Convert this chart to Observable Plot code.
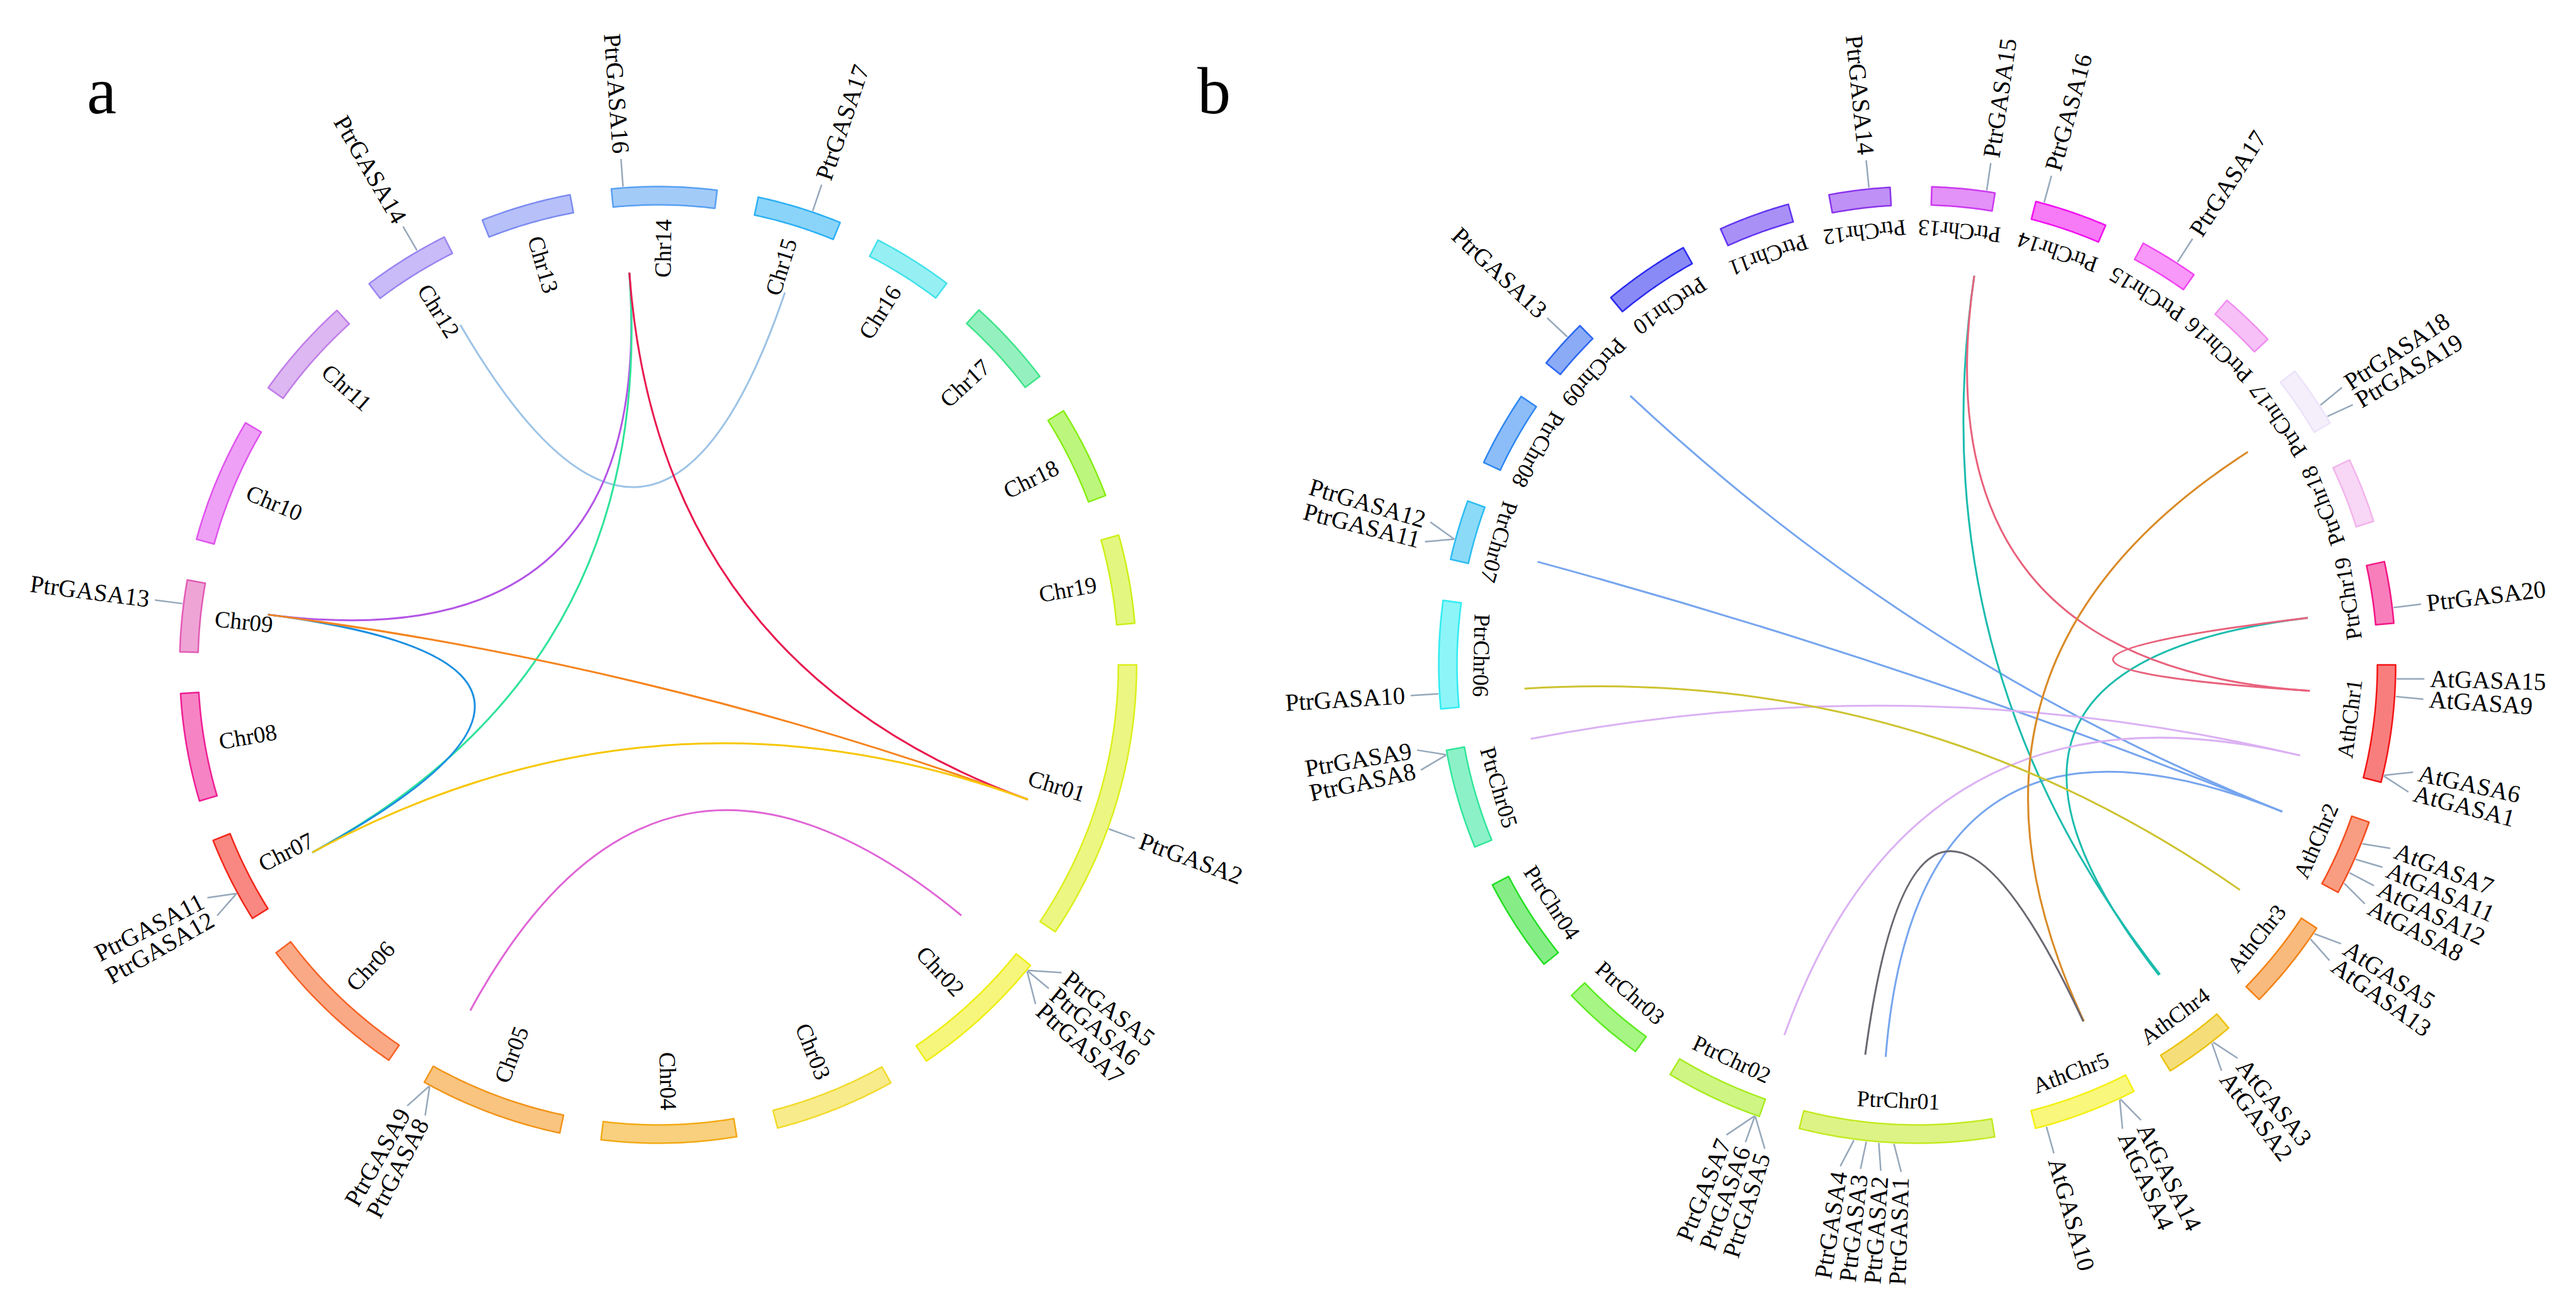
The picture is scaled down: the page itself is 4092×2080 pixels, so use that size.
<!DOCTYPE html>
<html>
<head>
<meta charset="utf-8">
<script src="https://cdn.jsdelivr.net/npm/d3@7"></script>
<script src="https://cdn.jsdelivr.net/npm/@observablehq/plot@0.6"></script>
<style>
html, body { margin: 0; padding: 0; background: #fff; overflow: hidden; }
#wrap { position: relative; width: 4092px; height: 2080px; }
#wrap svg { display: block; }
.letter { position: absolute; font-family: "Liberation Serif", "Times New Roman", serif; font-size: 106px; line-height: 1; color: #000; }
</style>
</head>
<body>
<div id="wrap"></div>
<script>
// ---------------- DATA ----------------
// Populus trichocarpa chromosomes (Mb)
const ptrChromosomes = ["Chr01","Chr02","Chr03","Chr04","Chr05","Chr06","Chr07","Chr08","Chr09","Chr10",
                        "Chr11","Chr12","Chr13","Chr14","Chr15","Chr16","Chr17","Chr18","Chr19"];
const ptrLengths = [50.5, 25.3, 21.8, 24.3, 25.9, 27.9, 15.6, 19.5, 12.9, 22.6,
                    18.5, 15.8, 16.3, 18.9, 15.3, 14.5, 16.1, 16.9, 16.0];
// Arabidopsis thaliana chromosomes (Mb)
const athChromosomes = ["Chr1","Chr2","Chr3","Chr4","Chr5"];
const athLengths = [30.4, 19.7, 23.5, 18.6, 27.0];

// Poplar GASA genes: chromosome and position (Mb)
const ptrGenes   = ["PtrGASA1","PtrGASA2","PtrGASA3","PtrGASA4","PtrGASA5","PtrGASA6","PtrGASA7","PtrGASA8","PtrGASA9","PtrGASA10",
                    "PtrGASA11","PtrGASA12","PtrGASA13","PtrGASA14","PtrGASA15","PtrGASA16","PtrGASA17","PtrGASA18","PtrGASA19","PtrGASA20"];
const ptrGeneChr = ["Chr01","Chr01","Chr01","Chr01","Chr02","Chr02","Chr02","Chr05","Chr05","Chr06",
                    "Chr07","Chr07","Chr09","Chr12","Chr13","Chr14","Chr15","Chr17","Chr17","Chr19"];
const ptrGenePos = [25.9, 29.8, 33.0, 36.2, 1.0, 1.1, 1.2, 24.7, 24.8, 3.9,
                    5.25, 5.25, 8.6, 10.4, 14.1, 2.1, 10.0, 10.9, 14.3, 12.0];
// Arabidopsis GASA genes
const atGenes   = ["AtGASA15","AtGASA9","AtGASA6","AtGASA1","AtGASA7","AtGASA11","AtGASA12","AtGASA8",
                   "AtGASA5","AtGASA13","AtGASA3","AtGASA2","AtGASA14","AtGASA4","AtGASA10"];
const atGeneChr = ["Chr1","Chr1","Chr1","Chr1","Chr2","Chr2","Chr2","Chr2",
                   "Chr3","Chr3","Chr4","Chr4","Chr5","Chr5","Chr5"];
const atGenePos = [3.6, 8.1, 28.5, 28.7, 5.8, 10.1, 13.9, 16.9,
                   1.5, 3.2, 5.4, 5.8, 4.0, 4.2, 24.2];

// Panel a: segmental duplication pairs within poplar
const dupGeneA = ["PtrGASA14","PtrGASA16","PtrGASA16","PtrGASA16","PtrGASA13","PtrGASA13","PtrGASA12","PtrGASA9"];
const dupGeneB = ["PtrGASA17","PtrGASA13","PtrGASA11","PtrGASA2","PtrGASA12","PtrGASA2","PtrGASA2","PtrGASA5"];
// genes labelled in panel a (clockwise order of their labels)
const panelAGenes = ["PtrGASA2","PtrGASA5","PtrGASA6","PtrGASA7","PtrGASA8","PtrGASA9","PtrGASA12","PtrGASA11",
                     "PtrGASA13","PtrGASA14","PtrGASA16","PtrGASA17"];

// Panel b: syntenic pairs poplar - Arabidopsis
const synPtr = ["PtrGASA13","PtrGASA11","PtrGASA2","PtrGASA15","PtrGASA20","PtrGASA15","PtrGASA20",
                "PtrGASA8","PtrGASA5","PtrGASA18","PtrGASA4","PtrGASA10"];
const synAt  = ["AtGASA7","AtGASA7","AtGASA7","AtGASA3","AtGASA2","AtGASA9","AtGASA9",
                "AtGASA6","AtGASA6","AtGASA14","AtGASA4","AtGASA13"];

// ---------------- STYLES ----------------
const ptrColorsA = ["#dcef1c","#eeee10","#f2da2c","#f2aa14","#f29418","#f66224","#f2261a","#ee1e94","#e25ab4","#e052ee",
                    "#c07ce8","#9a84f2","#7c8cf2","#58a0f2","#2cb0f4","#40e2ea","#3ee48a","#86ee12","#ccf018"];
const ptrColorsB = ["#c2ea20","#a8ec20","#5cec20","#22de22","#30e69a","#30ecf2","#2cbcf2","#2e86f2","#2c66f0","#2a2aee",
                    "#6234f0","#8a34ec","#cc38f0","#f00cf0","#f244f2","#f08ef0","#ece2fa","#f2b4ec","#f21484"];
const athColorsB = ["#f21414","#f44c1c","#f48214","#ecc20c","#f4f010"];
const dupColors  = ["#9dc3e6","#b455e6","#2fe39a","#e8194f","#1b8fe0","#f5841f","#f7c600","#e065d6"];
const synColors  = ["#76a5ee","#76a5ee","#76a5ee","#1bbcad","#1bbcad","#e8627c","#e8627c",
                    "#dbb1f3","#dbb1f3","#d98a26","#6b6770","#cdc330"];

// ---------------- LAYOUT ----------------
const W = 4092, H = 2080;
const CENTER = { a: [1045, 1056], b: [3045, 1056] };
const START = 90, GAP = 5;
const R_OUT = 760, R_IN = 731, R_LINK = 625, R_TICK0 = 762, R_TICK1 = 806, R_GENE = 815;
const R_CHRLAB_A = 708, R_CHRLAB_B = 693;
const LABEL_SEP = 2.3;
const FONT = "Liberation Serif, Times New Roman, serif";
const DEG = Math.PI / 180;

function polar(c, r, deg) { return [c[0] + r * Math.sin(deg * DEG), c[1] - r * Math.cos(deg * DEG)]; }
function norm(deg) { return ((deg % 360) + 360) % 360; }

function layoutRing(chrs) {
  const total = d3.sum(chrs, d => d.len);
  const k = (360 - chrs.length * GAP) / total;
  let a = START;
  return chrs.map(d => { const s = a, e = a + d.len * k; a = e + GAP; return {...d, start: s, end: e, k}; });
}

const ringA = layoutRing(ptrChromosomes.map((c, i) => ({key: "a:" + c, label: c, len: ptrLengths[i]})));
const ringB = layoutRing([
  ...athChromosomes.map((c, i) => ({key: "b:Ath" + c, label: "Ath" + c, len: athLengths[i]})),
  ...ptrChromosomes.map((c, i) => ({key: "b:Ptr" + c, label: "Ptr" + c, len: ptrLengths[i]}))
]);
const ringIndexA = new Map(ringA.map(d => [d.key, d]));
const ringIndexB = new Map(ringB.map(d => [d.key, d]));

const ptrGeneTable = new Map(ptrGenes.map((g, i) => [g, {chr: ptrGeneChr[i], pos: ptrGenePos[i]}]));
const atGeneTable = new Map(atGenes.map((g, i) => [g, {chr: atGeneChr[i], pos: atGenePos[i]}]));

function angleA(gene) { const g = ptrGeneTable.get(gene); const c = ringIndexA.get("a:" + g.chr); return c.start + g.pos * c.k; }
function angleB(gene) {
  let g = ptrGeneTable.get(gene), key;
  if (g) key = "b:Ptr" + g.chr; else { g = atGeneTable.get(gene); key = "b:Ath" + g.chr; }
  const c = ringIndexB.get(key); return c.start + g.pos * c.k;
}

// chromosome outlines
function ringPolys(ring, c) {
  const pts = [];
  for (const d of ring) {
    const n = Math.max(4, Math.ceil((d.end - d.start) / 0.4));
    for (let i = 0; i <= n; i++) { const t = d.start + (d.end - d.start) * i / n; const [x, y] = polar(c, R_OUT, t); pts.push({key: d.key, x, y}); }
    for (let i = n; i >= 0; i--) { const t = d.start + (d.end - d.start) * i / n; const [x, y] = polar(c, R_IN, t); pts.push({key: d.key, x, y}); }
  }
  return pts;
}
const polys = [...ringPolys(ringA, CENTER.a), ...ringPolys(ringB, CENTER.b)];

// links
const linksA = dupGeneA.map((g, i) => {
  const [x1, y1] = polar(CENTER.a, R_LINK, angleA(g));
  const [x2, y2] = polar(CENTER.a, R_LINK, angleA(dupGeneB[i]));
  return {key: "la:" + i, x1, y1, x2, y2};
});
const linksB = synPtr.map((g, i) => {
  const [x1, y1] = polar(CENTER.b, R_LINK, angleB(g));
  const [x2, y2] = polar(CENTER.b, R_LINK, angleB(synAt[i]));
  return {key: "lb:" + i, x1, y1, x2, y2};
});

// curve: quadratic Bezier through the ring centre
function viaCenter(c) {
  return (context) => {
    let pts = [];
    return {
      lineStart() { pts = []; },
      point(x, y) { pts.push([+x, +y]); },
      lineEnd() {
        if (pts.length < 2) return;
        const a = pts[0], b = pts[pts.length - 1];
        context.moveTo(a[0], a[1]);
        context.quadraticCurveTo(c[0], c[1], b[0], b[1]);
      },
      areaStart() {}, areaEnd() {}
    };
  };
}

// gene labels with spreading
function geneLabels(genes, angleFn, c) {
  const items = genes.map((g, i) => ({gene: g, theta: angleFn(g), order: i}));
  items.sort((a, b) => a.theta - b.theta || a.order - b.order);
  const t = items.map(d => d.theta);
  for (let it = 0; it < 300; it++) {
    for (let i = 1; i < t.length; i++) {
      const gap = t[i] - t[i - 1];
      if (gap < LABEL_SEP - 1e-6) { const s = (LABEL_SEP - gap) / 2; t[i - 1] -= s; t[i] += s; }
    }
  }
  return items.map((d, i) => {
    const lt = t[i];
    const [x1, y1] = polar(c, R_TICK0, d.theta);
    const [x2, y2] = polar(c, R_TICK1, lt);
    const [x, y] = polar(c, R_GENE, lt);
    const right = norm(lt) < 180;
    return {gene: d.gene, x1, y1, x2, y2, x, y, right, rot: right ? lt - 90 : lt + 90};
  });
}
const genesA = geneLabels(panelAGenes, angleA, CENTER.a);
const genesB = geneLabels([...ptrGenes, ...atGenes], angleB, CENTER.b);
const geneLabelsAll = [...genesA, ...genesB];

// chromosome labels
const chrLabA = ringA.map(d => {
  const m = (d.start + d.end) / 2; const [x, y] = polar(CENTER.a, R_CHRLAB_A, m);
  const right = norm(m) < 180;
  return {label: d.label, x, y, right, rot: right ? m - 90 : m + 90};
});
const chrLabB = ringB.map(d => {
  const m = (d.start + d.end) / 2; const [x, y] = polar(CENTER.b, R_CHRLAB_B, m);
  return {label: d.label, x, y, rot: m - 180};
});

// colour scale
const colorDomain = [...ringA.map(d => d.key), ...ringB.map(d => d.key), ...linksA.map(d => d.key), ...linksB.map(d => d.key)];
const colorRange = [...ptrColorsA, ...athColorsB, ...ptrColorsB, ...dupColors, ...synColors];

const chart = Plot.plot({
  width: W, height: H, margin: 0,
  x: {domain: [0, W], range: [0, W], axis: null},
  y: {domain: [0, H], range: [0, H], axis: null},
  color: {type: "ordinal", domain: colorDomain, range: colorRange},
  style: {background: "white"},
  marks: [
    Plot.link(linksA, {x1: "x1", y1: "y1", x2: "x2", y2: "y2", stroke: "key", strokeWidth: 3, curve: viaCenter(CENTER.a)}),
    Plot.link(linksB, {x1: "x1", y1: "y1", x2: "x2", y2: "y2", stroke: "key", strokeWidth: 3, curve: viaCenter(CENTER.b)}),
    Plot.line(polys, {x: "x", y: "y", z: "key", fill: "key", stroke: "key", fillOpacity: 0.55, strokeWidth: 2.5, curve: "linear-closed"}),
    Plot.link(geneLabelsAll, {x1: "x1", y1: "y1", x2: "x2", y2: "y2", stroke: "#96a8bb", strokeWidth: 2.5}),
    Plot.text(chrLabA.filter(d => d.right), {x: "x", y: "y", text: "label", rotate: "rot", textAnchor: "end", fontSize: 37, fontFamily: FONT, fill: "black"}),
    Plot.text(chrLabA.filter(d => !d.right), {x: "x", y: "y", text: "label", rotate: "rot", textAnchor: "start", fontSize: 37, fontFamily: FONT, fill: "black"}),
    Plot.text(chrLabB, {x: "x", y: "y", text: "label", rotate: "rot", textAnchor: "middle", fontSize: 36, fontFamily: FONT, fill: "black"}),
    Plot.text(geneLabelsAll.filter(d => d.right), {x: "x", y: "y", text: "gene", rotate: "rot", textAnchor: "start", fontSize: 39, fontFamily: FONT, fill: "black"}),
    Plot.text(geneLabelsAll.filter(d => !d.right), {x: "x", y: "y", text: "gene", rotate: "rot", textAnchor: "end", fontSize: 39, fontFamily: FONT, fill: "black"})
  ]
});

const wrap = document.getElementById("wrap");
wrap.appendChild(chart);
const panelLetters = ["a", "b"];
const letterLeft = [138, 1902];
panelLetters.forEach((t, i) => {
  const div = document.createElement("div");
  div.className = "letter";
  div.textContent = t;
  div.style.left = letterLeft[i] + "px";
  div.style.top = "92px";
  wrap.appendChild(div);
});
</script>
</body>
</html>
